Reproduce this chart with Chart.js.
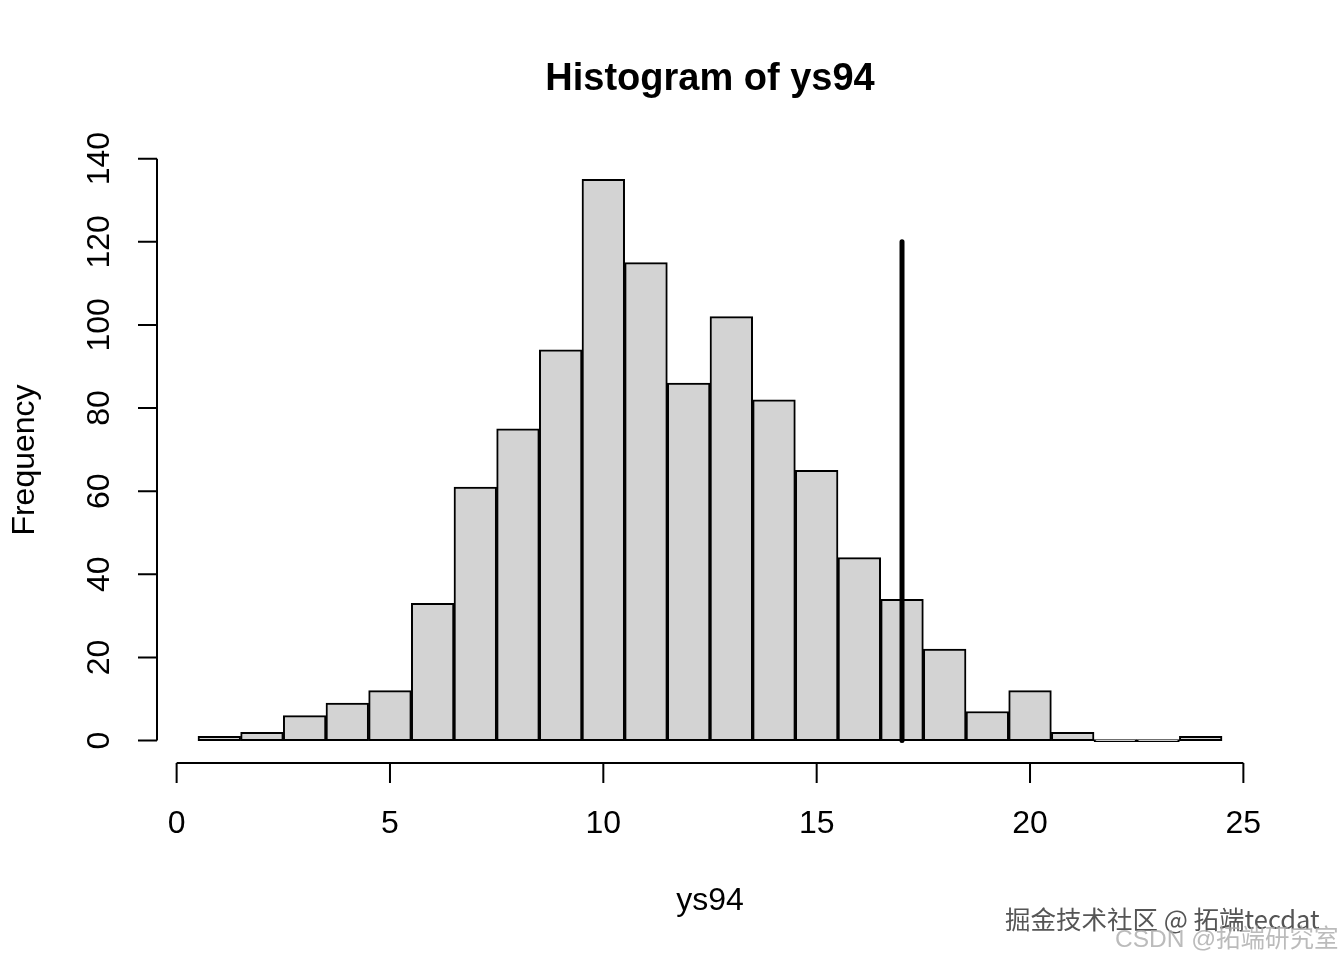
<!DOCTYPE html>
<html>
<head>
<meta charset="utf-8">
<script src="https://cdn.jsdelivr.net/npm/chart.js@4.4.1/dist/chart.umd.min.js"></script>
<style>
  html, body { margin: 0; padding: 0; background: #fff; }
  #wrap { width: 1344px; height: 960px; }
</style>
</head>
<body>
<div id="wrap"><canvas id="myChart" width="1344" height="960"></canvas></div>
<script>
'use strict';

// ******* DATA *******
let binMids = [1, 2, 3, 4, 5, 6, 7, 8, 9, 10, 11, 12, 13, 14, 15, 16, 17, 18, 19, 20, 21, 22, 23, 24];
let binCounts = [1, 2, 6, 9, 12, 33, 61, 75, 94, 135, 115, 86, 102, 82, 65, 44, 34, 22, 7, 12, 2, 0, 0, 1];
let xTicks = [0, 5, 10, 15, 20, 25];
let yTicks = [0, 20, 40, 60, 80, 100, 120, 140];
let markerX = [17, 17];
let markerY = [0, 120];

let titleText = 'Histogram of ys94';
let xLabel = 'ys94';
let yLabel = 'Frequency';

const FONT = '"Liberation Sans", Arial, Helvetica, sans-serif';

// ***** HELPERS *****
function toPoints(xs, ys) {
  let pts = [];
  for (let i = 0; i < xs.length; i++) {
    pts.push({ x: xs[i], y: ys[i] });
  }
  return pts;
}

// R style axes, labels, title and watermark
const rAxesPlugin = {
  id: 'rAxes',
  afterDraw(chart) {
    const ctx = chart.ctx;
    const xs = chart.scales.x;
    const ys = chart.scales.y;
    const area = chart.chartArea;
    ctx.save();
    ctx.strokeStyle = '#000';
    ctx.fillStyle = '#000';
    ctx.lineWidth = 2;

    // x axis
    let xa = area.bottom;
    ctx.beginPath();
    ctx.moveTo(xs.getPixelForValue(xTicks[0]), xa);
    ctx.lineTo(xs.getPixelForValue(xTicks[xTicks.length - 1]), xa);
    for (let i = 0; i < xTicks.length; i++) {
      let px = xs.getPixelForValue(xTicks[i]);
      ctx.moveTo(px, xa);
      ctx.lineTo(px, xa + 20);
    }
    ctx.stroke();
    ctx.font = '32px ' + FONT;
    ctx.textAlign = 'center';
    ctx.textBaseline = 'middle';
    for (let i = 0; i < xTicks.length; i++) {
      ctx.fillText(String(xTicks[i]), xs.getPixelForValue(xTicks[i]), xa + 61);
    }

    // y axis
    let ya = area.left;
    ctx.beginPath();
    ctx.moveTo(ya, ys.getPixelForValue(yTicks[0]));
    ctx.lineTo(ya, ys.getPixelForValue(yTicks[yTicks.length - 1]));
    for (let i = 0; i < yTicks.length; i++) {
      let py = ys.getPixelForValue(yTicks[i]);
      ctx.moveTo(ya, py);
      ctx.lineTo(ya - 19, py);
    }
    ctx.stroke();
    for (let i = 0; i < yTicks.length; i++) {
      ctx.save();
      ctx.translate(ya - 57, ys.getPixelForValue(yTicks[i]));
      ctx.rotate(-Math.PI / 2);
      ctx.fillText(String(yTicks[i]), 0, 0);
      ctx.restore();
    }

    // axis titles
    ctx.fillText(xLabel, (area.left + area.right) / 2, 901);
    ctx.save();
    ctx.translate(25, (area.top + area.bottom) / 2);
    ctx.rotate(-Math.PI / 2);
    ctx.fillText(yLabel, 0, 0);
    ctx.restore();

    // main title
    ctx.font = 'bold 38px ' + FONT;
    ctx.fillText(titleText, (area.left + area.right) / 2, 80);

    // watermark
    ctx.textAlign = 'left';
    ctx.font = '25.5px "Noto Sans CJK SC", sans-serif';
    ctx.fillStyle = '#ffffff';
    ctx.fillText('掘金技术社区 @ 拓端tecdat', 1007, 921);
    ctx.fillStyle = '#555555';
    ctx.fillText('掘金技术社区 @ 拓端tecdat', 1005, 919);
    ctx.font = '24.5px "Liberation Sans", "Noto Sans CJK SC", sans-serif';
    ctx.fillStyle = 'rgba(170,170,170,0.8)';
    ctx.fillText('CSDN @拓端研究室', 1115, 940);
    ctx.restore();
  }
};

// **** RENDER CHART *****
function renderChart() {
  const data = {
    datasets: [{
      type: 'line',
      data: toPoints(markerX, markerY),
      borderColor: '#000',
      borderWidth: 5,
      borderCapStyle: 'round',
      pointRadius: 0,
      order: 0
    },
    {
      type: 'bar',
      data: toPoints(binMids, binCounts),
      backgroundColor: '#d3d3d3',
      borderColor: '#000',
      borderWidth: 2,
      borderSkipped: false,
      barPercentage: 1,
      categoryPercentage: 1,
      minBarLength: 2,
      order: 1
    }]
  };

  const config = {
    type: 'bar',
    data: data,
    options: {
      responsive: false,
      animation: false,
      layout: {
        padding: { left: 157, right: 81, top: 157, bottom: 197 }
      },
      plugins: {
        legend: { display: false },
        tooltip: { enabled: false }
      },
      scales: {
        x: {
          type: 'linear',
          display: false,
          offset: false,
          min: -0.46,
          max: 25.46
        },
        y: {
          type: 'linear',
          display: false,
          min: -5.4,
          max: 140.4
        }
      }
    },
    plugins: [rAxesPlugin]
  };
  let canvasChart = document.getElementById('myChart');
  const myChart = new Chart(canvasChart, config);
}

renderChart();
</script>
</body>
</html>
